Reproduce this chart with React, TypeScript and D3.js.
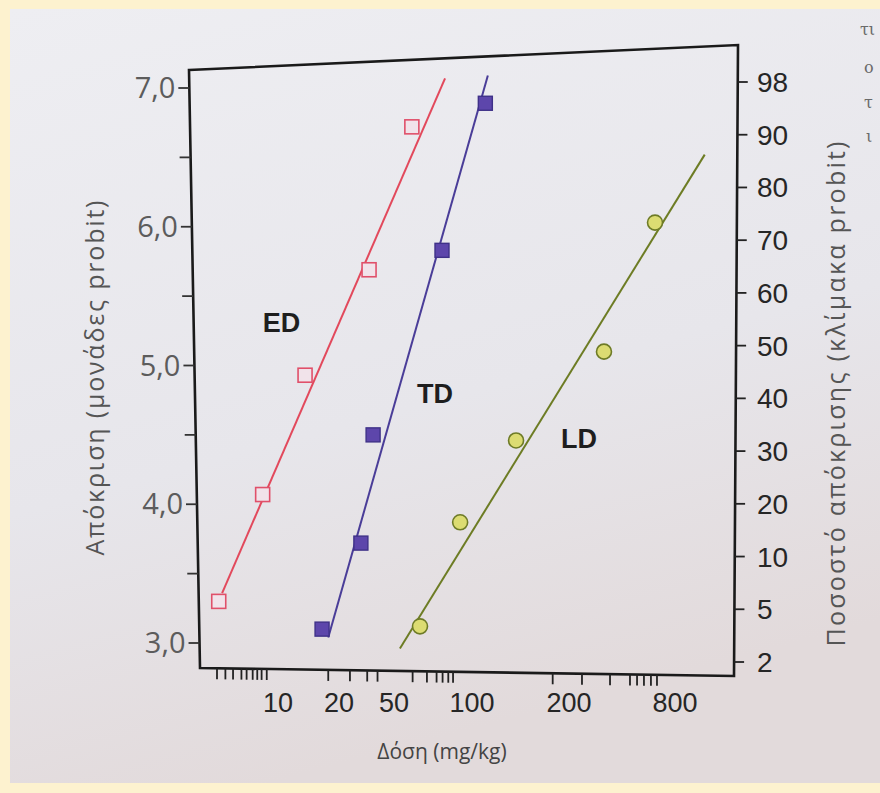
import React from 'react';
import * as d3 from 'd3';

const W = 880, H = 793;

// points: dose (mg/kg) and response (probit units)
const edDose = [5.1, 8.4, 13.6, 33, 58.6];
const edProbit = [3.3, 4.07, 4.93, 5.69, 6.72];
const tdDose = [16.5, 28.8, 35.3, 76.6, 110];
const tdProbit = [3.1, 3.72, 4.5, 5.83, 6.89];
const ldDose = [63, 90, 137, 316, 616];
const ldProbit = [3.12, 3.87, 4.46, 5.1, 6.03];

// fitted lines, start and end
const edFitDose = [5.3, 78.7];
const edFitProbit = [3.36, 7.07];
const tdFitDose = [17.7, 112];
const tdFitProbit = [3.04, 7.09];
const ldFitDose = [52.7, 1180];
const ldFitProbit = [2.96, 6.52];

// where the series names sit (dose, probit)
const seriesNames = ['ED', 'TD', 'LD'];
const nameDose = [10.4, 72, 228];
const nameProbit = [5.31, 4.8, 4.48];

// axes
const doseLabels = [10, 20, 50, 100, 200, 800];
const doseMinor = [5, 5.5, 6, 6.6, 7, 7.5, 7.9, 8.3, 8.8, 17.7, 24, 32, 38, 59, 67, 73, 77, 81, 84.5, 178, 237, 342, 444, 487, 533, 584, 632];
const probitMajor = [3, 4, 5, 6, 7];
const probitMinor = [3.5, 4.5, 5.5, 6.5];
const percentLabels = ['98', '90', '80', '70', '60', '50', '40', '30', '20', '10', '5', '2'];

// frame corners (photo is slightly skewed)
const TL = [189, 70], TR = [738, 45], BR = [734, 676], BL = [200, 668];
const leftX = (y: number) => TL[0] + (y - TL[1]) * (BL[0] - TL[0]) / (BL[1] - TL[1]);
const rightX = (y: number) => TR[0] + (y - TR[1]) * (BR[0] - TR[0]) / (BR[1] - TR[1]);
const bottomY = (x: number) => BL[1] + (x - BL[0]) * (BR[1] - BL[1]) / (BR[0] - BL[0]);

const x = d3.scaleLog().domain(doseLabels).range([278, 339, 394, 472, 569, 675]);
const y = d3.scaleLinear().domain([3, 7]).range([643, 88]);
const yPct = d3.scalePoint().domain(percentLabels).range([82, 662]);

const line = d3.line<[number, number]>().x(d => x(d[0])).y(d => y(d[1]));
const pts = (ds: number[], ps: number[]) => ds.map((d, i) => [d, ps[i]] as [number, number]);

const RED = '#e2495c', PURPLE = '#4a3d98', GREEN = '#6d7c24';

export default function App() {
  const sq = 14;
  return (
    <svg width={W} height={H} style={{ display: 'block', position: 'absolute', left: 0, top: 0 }}>
      <defs>
        <linearGradient id="page" x1="0" y1="0" x2="0.3" y2="1">
          <stop offset="0" stopColor="#eeeef2" />
          <stop offset="0.6" stopColor="#e7e6eb" />
          <stop offset="1" stopColor="#e2dadb" />
        </linearGradient>
      </defs>
      <rect width={W} height={H} fill="#fdf2cf" />
      <rect x={10} y={9} width={W - 10} height={H - 19} fill="url(#page)" />

      {/* frame */}
      <path d={`M${TL}L${TR}L${BR}L${BL}Z`} fill="none" stroke="#1a1a1a" strokeWidth={2.6} />

      {/* left axis */}
      {probitMajor.map(v => (
        <g key={'m' + v}>
          <line x1={leftX(y(v)) - 11} x2={leftX(y(v))} y1={y(v)} y2={y(v)} stroke="#333" strokeWidth={1.8} />
          <text x={leftX(y(v)) - 14} y={y(v) + 10} textAnchor="end" fontFamily="Open Sans" fontSize={29} fill="#5c5c5c">
            {d3.format('.1f')(v).replace('.', ',')}
          </text>
        </g>
      ))}
      {probitMinor.map(v => (
        <line key={'n' + v} x1={leftX(y(v)) - 11} x2={leftX(y(v))} y1={y(v)} y2={y(v)} stroke="#333" strokeWidth={1.8} />
      ))}
      <text transform="translate(104,378) rotate(-90)" textAnchor="middle" fontFamily="Open Sans" fontSize={25} fill="#555"
        textLength={355} lengthAdjust="spacing">Απόκριση (μονάδες probit)</text>

      {/* right axis */}
      {percentLabels.map(l => {
        const yy = yPct(l)!;
        return (
          <g key={'p' + l}>
            <line x1={rightX(yy)} x2={rightX(yy) + 10} y1={yy} y2={yy} stroke="#222" strokeWidth={1.8} />
            <text x={757} y={yy + 10} fontFamily="Liberation Sans" fontSize={28} fill="#262626">{l}</text>
          </g>
        );
      })}
      <text transform="translate(845,394) rotate(-90)" textAnchor="middle" fontFamily="Open Sans" fontSize={25} fill="#555"
        textLength={505} lengthAdjust="spacing">Ποσοστό απόκρισης (κλίμακα probit)</text>

      {/* bottom axis */}
      {doseMinor.map(d => (
        <line key={'d' + d} x1={x(d)} x2={x(d)} y1={bottomY(x(d))} y2={bottomY(x(d)) + 11} stroke="#222" strokeWidth={1.8} />
      ))}
      {doseLabels.map(d => (
        <text key={'l' + d} x={x(d)} y={712} textAnchor="middle" fontFamily="Liberation Sans" fontSize={27} fill="#262626">{d}</text>
      ))}
      <text x={442} y={759} textAnchor="middle" fontFamily="Open Sans" fontSize={21} fill="#444">Δόση (mg/kg)</text>

      {/* fitted lines */}
      <path d={line(pts(edFitDose, edFitProbit))!} stroke={RED} strokeWidth={2} fill="none" />
      <path d={line(pts(tdFitDose, tdFitProbit))!} stroke={PURPLE} strokeWidth={2} fill="none" />
      <path d={line(pts(ldFitDose, ldFitProbit))!} stroke={GREEN} strokeWidth={2} fill="none" />

      {/* points */}
      {pts(edDose, edProbit).map((p, i) => (
        <rect key={'e' + i} x={x(p[0]) - sq / 2} y={y(p[1]) - sq / 2} width={sq} height={sq} fill="#f1e3ea" stroke="#e0506a" strokeWidth={1.6} />
      ))}
      {pts(tdDose, tdProbit).map((p, i) => (
        <rect key={'t' + i} x={x(p[0]) - sq / 2} y={y(p[1]) - sq / 2} width={sq} height={sq} fill="#5d46ab" stroke="#3f3188" strokeWidth={1.4} />
      ))}
      {pts(ldDose, ldProbit).map((p, i) => (
        <circle key={'c' + i} cx={x(p[0])} cy={y(p[1])} r={7.5} fill="#dcdc72" stroke="#6e7b27" strokeWidth={1.6} />
      ))}

      {seriesNames.map((n, i) => (
        <text key={n} x={x(nameDose[i])} y={y(nameProbit[i]) + 10} textAnchor="middle" fontFamily="Liberation Sans"
          fontWeight="bold" fontSize={27} fill="#1e1e1e">{n}</text>
      ))}

      {/* cut-off letters of the next column */}
      <g fontFamily="DejaVu Serif" fontSize={16} fill="#6a6a6a">
        <text x={860} y={35}>τι</text>
        <text x={864} y={73}>ο</text>
        <text x={864} y={108}>τ</text>
        <text x={866} y={142}>ι</text>
      </g>
    </svg>
  );
}
